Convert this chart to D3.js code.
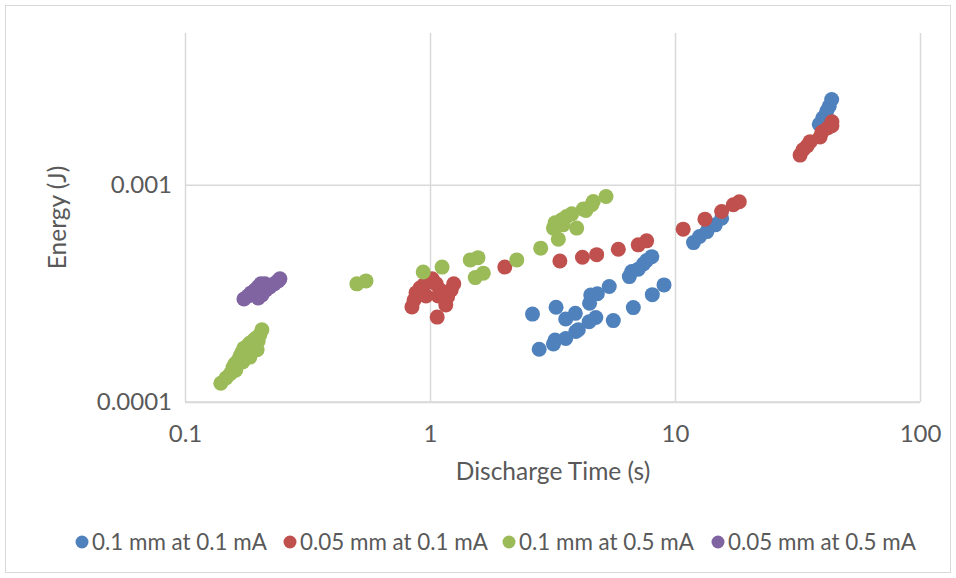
<!DOCTYPE html>
<html>
<head>
<meta charset="utf-8">
<script src="https://cdn.jsdelivr.net/npm/d3@7"></script>
<style>
  html, body { margin: 0; padding: 0; background: #fff; }
  svg { display: block; font-family: Lato, "Open Sans", sans-serif; }
</style>
</head>
<body>
<svg id="chart" width="956" height="578"></svg>
<script>
// Discharge time (s) and energy (J) for each electrode / current setting
const seriesNames = ["0.1 mm at 0.1 mA", "0.05 mm at 0.1 mA", "0.1 mm at 0.5 mA", "0.05 mm at 0.5 mA"];
const seriesColors = ["#4f81bd", "#c0504d", "#9bbb59", "#8064a2"];

const blueTime = [2.62,3.27,2.79,3.19,3.24,3.58,3.94,4.03,3.58,3.92,4.46,4.75,5.60,4.48,4.53,4.82,5.39,6.76,8.08,9.02,6.51,6.66,7.08,7.43,7.66,8.04,11.9,12.6,13.5,14.6,15.5,43.6,42.6,41.6,40.1,38.8];
const blueEnergy = [0.000254,0.000273,0.000175,0.000185,0.000193,0.000196,0.000211,0.000215,0.000241,0.000256,0.000234,0.000245,0.000237,0.000285,0.000311,0.000315,0.000340,0.000272,0.000312,0.000346,0.000378,0.000399,0.000409,0.000432,0.000448,0.000467,0.000542,0.000578,0.000609,0.000654,0.000702,0.00247,0.00230,0.00218,0.00203,0.00190];

const redTime = [32.4,33.3,34.6,35.6,39.1,39.8,42.1,43.7,43.7,10.8,13.25,15.5,17.3,18.3,2.02,3.39,4.19,4.79,5.87,7.08,7.66,0.844,0.861,0.877,0.910,0.945,0.981,1.02,1.06,1.10,1.08,1.16,1.18,1.22,1.25,1.07,0.963];
const redEnergy = [0.00137,0.00145,0.00151,0.00158,0.00166,0.00175,0.00183,0.00195,0.00187,0.000625,0.000695,0.000753,0.000809,0.000835,0.000418,0.000446,0.000464,0.000477,0.000505,0.000529,0.000552,0.000274,0.000295,0.000318,0.000335,0.000346,0.000357,0.000369,0.000350,0.000328,0.000308,0.000280,0.000305,0.000328,0.000350,0.000246,0.000308];

const greenTime = [0.140,0.147,0.153,0.157,0.160,0.165,0.168,0.171,0.174,0.177,0.181,0.184,0.188,0.191,0.195,0.199,0.202,0.206,0.197,0.184,0.172,0.161,0.503,0.548,0.938,1.12,1.46,1.57,1.53,1.65,2.26,2.83,3.34,3.19,3.45,3.61,3.79,3.97,4.22,4.33,4.64,4.57,5.23,3.24,3.49];
const greenEnergy = [0.000122,0.000129,0.000135,0.000144,0.000150,0.000156,0.000163,0.000170,0.000177,0.000168,0.000183,0.000187,0.000179,0.000193,0.000197,0.000191,0.000204,0.000215,0.000174,0.000161,0.000153,0.000140,0.000350,0.000361,0.000397,0.000418,0.000451,0.000462,0.000374,0.000392,0.000451,0.000511,0.000562,0.000632,0.000690,0.000714,0.000735,0.000632,0.000773,0.000762,0.000838,0.000809,0.000884,0.000668,0.000654];

const purpleTime = [0.174,0.181,0.186,0.193,0.199,0.204,0.199,0.206,0.214,0.222,0.231,0.240,0.244,0.212];
const purpleEnergy = [0.000298,0.000308,0.000318,0.000328,0.000339,0.000350,0.000301,0.000311,0.000328,0.000339,0.000350,0.000361,0.000369,0.000350];

const xTicks = [0.1, 1, 10, 100];
const xTickLabels = ["0.1", "1", "10", "100"];
const yTicks = [0.0001, 0.001];
const yTickLabels = ["0.0001", "0.001"];

const xTitle = "Discharge Time (s)";
const yTitle = "Energy (J)";

const series = [
  { name: seriesNames[0], color: seriesColors[0], t: blueTime, e: blueEnergy },
  { name: seriesNames[1], color: seriesColors[1], t: redTime, e: redEnergy },
  { name: seriesNames[2], color: seriesColors[2], t: greenTime, e: greenEnergy },
  { name: seriesNames[3], color: seriesColors[3], t: purpleTime, e: purpleEnergy }
];

const svg = d3.select("#chart");
const W = 956, H = 578;
const plot = { left: 185, right: 920, top: 33, bottom: 402 };
const textColor = "#595959";
const gridColor = "#d9d9d9";

// outer chart frame
svg.append("rect")
  .attr("x", 5.5).attr("y", 5.5)
  .attr("width", W - 11).attr("height", H - 11)
  .attr("fill", "#fff").attr("stroke", gridColor).attr("stroke-width", 1);

const x = d3.scaleLog().domain([0.1, 100]).range([plot.left, plot.right]);
const y = d3.scaleLog().domain([0.0001, 0.005]).range([plot.bottom, plot.top]);

// x axis with vertical gridlines
const xAxis = d3.axisBottom(x)
  .tickValues(xTicks)
  .tickFormat((d, i) => xTickLabels[i])
  .tickSize(-(plot.bottom - plot.top))
  .tickPadding(23);
const gx = svg.append("g")
  .attr("transform", `translate(0,${plot.bottom})`)
  .call(xAxis);
gx.select(".domain").remove();
gx.selectAll(".tick line").attr("stroke", gridColor).attr("stroke-width", 1.5);
gx.selectAll(".tick text")
  .attr("fill", textColor)
  .style("font-size", "24px")
  .style("font-family", "Lato, sans-serif");

// y axis with horizontal gridlines
const yAxis = d3.axisLeft(y)
  .tickValues(yTicks)
  .tickFormat((d, i) => yTickLabels[i])
  .tickSize(-(plot.right - plot.left))
  .tickPadding(13);
const gy = svg.append("g")
  .attr("transform", `translate(${plot.left},0)`)
  .call(yAxis);
gy.select(".domain").remove();
gy.selectAll(".tick line").attr("stroke", gridColor).attr("stroke-width", 1.5);
gy.selectAll(".tick text")
  .attr("fill", textColor)
  .style("font-size", "24px")
  .style("font-family", "Lato, sans-serif");

// bottom axis line
svg.append("line")
  .attr("x1", plot.left).attr("x2", plot.right)
  .attr("y1", plot.bottom).attr("y2", plot.bottom)
  .attr("stroke", gridColor).attr("stroke-width", 1.5);

// data points
series.forEach(s => {
  svg.append("g")
    .selectAll("circle")
    .data(s.t.map((t, i) => ({ t, e: s.e[i] })))
    .join("circle")
    .attr("cx", d => x(d.t))
    .attr("cy", d => y(d.e))
    .attr("r", 7.5)
    .attr("fill", s.color);
});

// axis titles
svg.append("text")
  .attr("x", 553)
  .attr("y", 480)
  .attr("text-anchor", "middle")
  .attr("fill", textColor)
  .style("font-size", "24.5px")
  .text(xTitle);

svg.append("text")
  .attr("transform", `translate(66,${(plot.top + plot.bottom) / 2}) rotate(-90)`)
  .attr("text-anchor", "middle")
  .attr("fill", textColor)
  .style("font-size", "24.5px")
  .text(yTitle);

// legend
const legendX = [82, 290, 509, 718];
const legend = svg.append("g");
series.forEach((s, i) => {
  const g = legend.append("g").attr("transform", `translate(${legendX[i]},542)`);
  g.append("circle").attr("r", 6.5).attr("fill", s.color);
  g.append("text")
    .attr("x", 10)
    .attr("y", 8)
    .attr("fill", textColor)
    .style("font-size", "22.4px")
    .text(s.name);
});
</script>
</body>
</html>
